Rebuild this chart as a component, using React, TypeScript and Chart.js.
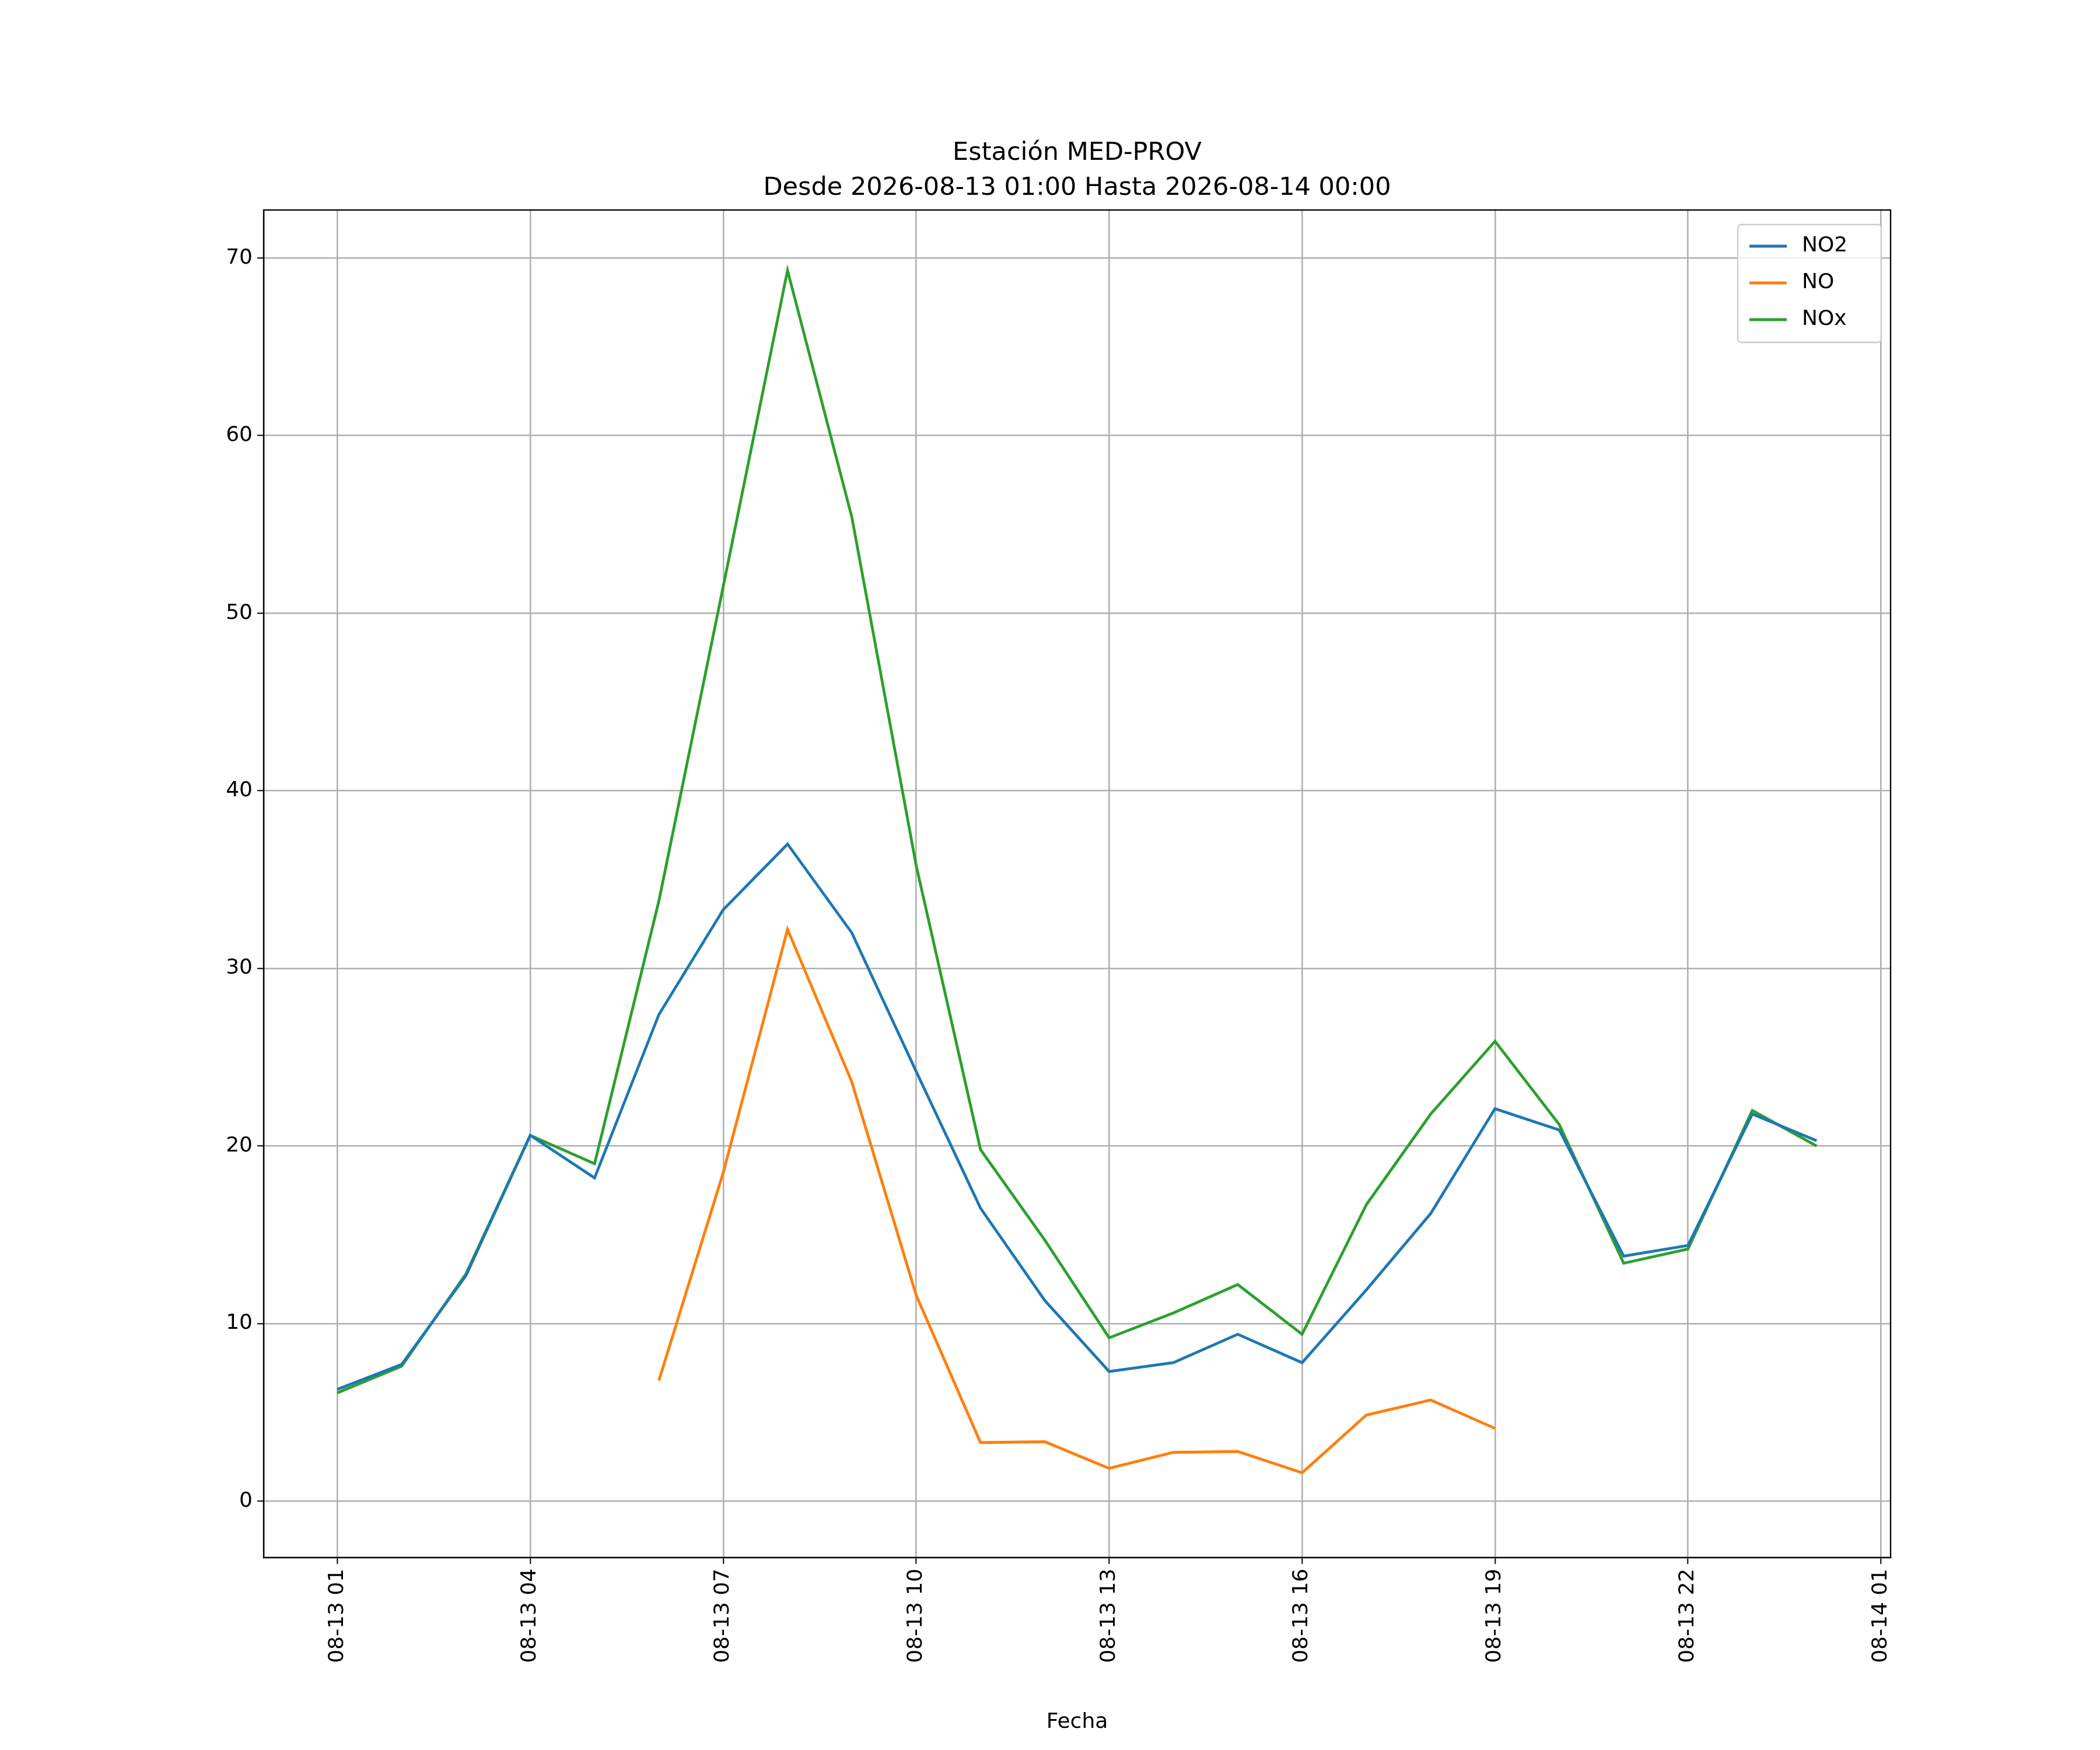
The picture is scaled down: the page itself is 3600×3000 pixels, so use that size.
import React, { useEffect, useRef } from "react";
import { Chart, registerables } from "chart.js";
Chart.register(...registerables);

const hours = Array.from({ length: 24 }, (_, i) => i); // offset from 08-13 01:00
const no2 = [6.3, 7.7, 12.7, 20.6, 18.2, 27.4, 33.3, 37.0, 32.0, 24.2, 16.5, 11.3, 7.3, 7.8, 9.4, 7.8, 11.9, 16.2, 22.1, 20.9, 13.8, 14.4, 21.8, 20.3];
const no = [null, null, null, null, null, 6.8, 18.5, 32.2, 23.6, 11.6, 3.3, 3.35, 1.85, 2.75, 2.8, 1.6, 4.85, 5.7, 4.1, null, null, null, null, null];
const nox = [6.1, 7.6, 12.8, 20.6, 19.0, 33.8, 51.5, 69.3, 55.4, 35.8, 19.8, 14.7, 9.2, 10.6, 12.2, 9.4, 16.7, 21.8, 25.9, 21.2, 13.4, 14.2, 22.0, 20.0];
const seriesNames = ["NO2", "NO", "NOx"];
const colors = ["#1f77b4", "#ff7f0e", "#2ca02c"];
const tickLabels = ["08-13 01", "08-13 04", "08-13 07", "08-13 10", "08-13 13", "08-13 16", "08-13 19", "08-13 22", "08-14 01"];
const titleLines = ["Estación MED-PROV", "Desde 2026-08-13 01:00 Hasta 2026-08-14 00:00"];

const FONT = "DejaVu Sans";

export default function App() {
  const ref = useRef<HTMLCanvasElement>(null);
  useEffect(() => {
    document.body.style.margin = "0";
    const all = [no2, no, nox];
    const extras = {
      id: "extras",
      afterDraw(chart: any) {
        const ctx = chart.ctx;
        const ca = chart.chartArea;
        ctx.save();
        ctx.strokeStyle = "#000";
        ctx.lineWidth = 2.3;
        ctx.strokeRect(ca.left, ca.top, ca.right - ca.left, ca.bottom - ca.top);
        ctx.fillStyle = "#000";
        ctx.font = `43px '${FONT}'`;
        ctx.textAlign = "center";
        ctx.textBaseline = "middle";
        const cx = (ca.left + ca.right) / 2;
        ctx.fillText(titleLines[0], cx, 263);
        ctx.fillText(titleLines[1], cx, 323);
        ctx.font = `36px '${FONT}'`;
        ctx.fillText("Fecha", cx, 2953);
        // legend
        const lx = 2979, ly = 385, lw = 246, lh = 202;
        ctx.fillStyle = "rgba(255,255,255,0.8)";
        ctx.strokeStyle = "#cccccc";
        ctx.lineWidth = 2.3;
        ctx.beginPath();
        ctx.roundRect(lx, ly, lw, lh, 6);
        ctx.fill();
        ctx.stroke();
        ctx.textAlign = "left";
        for (let i = 0; i < 3; i++) {
          const y = ly + 37 + i * 63;
          ctx.strokeStyle = colors[i];
          ctx.lineWidth = 4.8;
          ctx.beginPath();
          ctx.moveTo(lx + 20, y);
          ctx.lineTo(lx + 84, y);
          ctx.stroke();
          ctx.fillStyle = "#000";
          ctx.fillText(seriesNames[i], lx + 110, y);
        }
        ctx.restore();
      },
    };
    const chart = new Chart(ref.current!, {
      type: "line",
      data: {
        datasets: all.map((d, i) => ({
          label: seriesNames[i],
          data: hours.map((h, j) => ({ x: h, y: d[j] })),
          borderColor: colors[i],
          backgroundColor: colors[i],
          borderWidth: 4.8,
          pointRadius: 0,
          spanGaps: false,
          tension: 0,
        })),
      },
      options: {
        animation: false,
        responsive: false,
        devicePixelRatio: 1,
        layout: { padding: { top: 360, right: 359, left: 0, bottom: 0 } },
        plugins: { legend: { display: false }, title: { display: false }, tooltip: { enabled: false } },
        scales: {
          x: {
            type: "linear",
            min: -1.145,
            max: 24.15,
            afterBuildTicks: (s: any) => {
              s.ticks = [0, 3, 6, 9, 12, 15, 18, 21, 24].map((v) => ({ value: v }));
            },
            afterFit: (s: any) => { s.height = 330; },
            ticks: {
              autoSkip: false,
              maxRotation: 90,
              minRotation: 90,
              color: "#000",
              font: { family: FONT, size: 36 },
              padding: 8,
              callback: (v: any) => tickLabels[Math.round(Number(v) / 3)] ?? "",
            },
            grid: { color: "#b0b0b0", lineWidth: 2.6, tickLength: 11, tickColor: "#000", tickWidth: 2 },
            border: { color: "#000", width: 2.3 },
          },
          y: {
            min: -3.17,
            max: 72.7,
            afterBuildTicks: (s: any) => {
              s.ticks = [0, 10, 20, 30, 40, 50, 60, 70].map((v) => ({ value: v }));
            },
            afterFit: (s: any) => { s.width = 452; },
            ticks: { color: "#000", font: { family: FONT, size: 36 }, padding: 8 },
            grid: { color: "#b0b0b0", lineWidth: 2.6, tickLength: 11, tickColor: "#000", tickWidth: 2 },
            border: { color: "#000", width: 2.3 },
          },
        },
      },
      plugins: [extras],
    } as any);
    return () => chart.destroy();
  }, []);
  return <canvas ref={ref} width={3600} height={3000} style={{ width: 3600, height: 3000, display: "block" }} />;
}
